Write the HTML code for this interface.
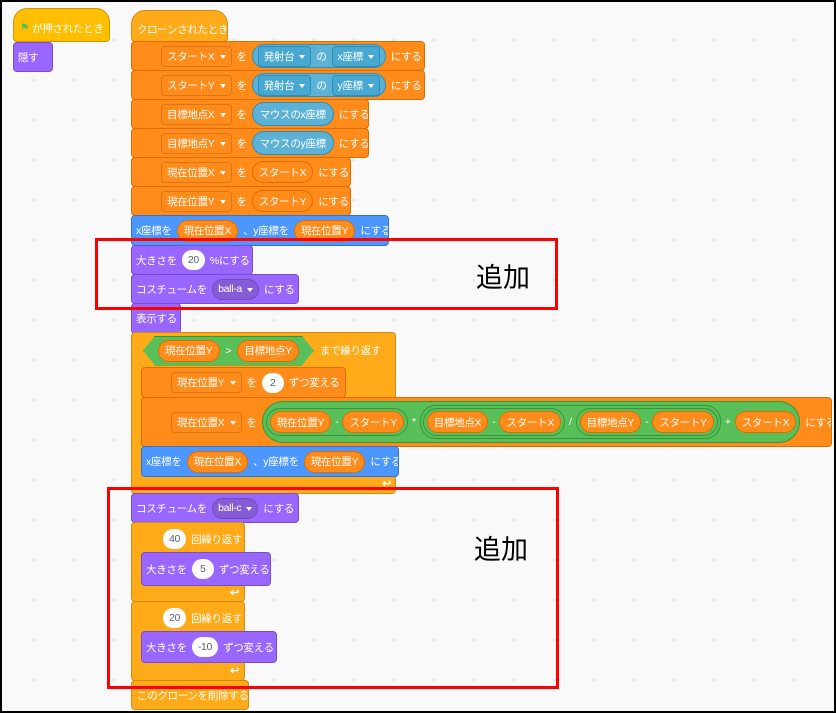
<!DOCTYPE html>
<html><head><meta charset="utf-8"><style>
*{box-sizing:border-box;margin:0;padding:0}
body{width:836px;height:713px;overflow:hidden;background:#000;font-family:"Liberation Sans","Noto Sans CJK JP",sans-serif}
#c{position:absolute;left:2px;top:2px;width:832px;height:709px;background-color:#f9f9f9;background-image:radial-gradient(circle,#ddd 1px,transparent 1.2px);background-size:40px 40px;background-position:12px 18px;overflow:hidden}
.b{position:absolute;display:flex;align-items:center;gap:5px;color:#fff;font-size:10.5px;letter-spacing:-0.3px;white-space:nowrap;border-radius:4px;padding-left:6px;overflow:hidden}
.var{background:#ff8c1a;border:1px solid #db6e00;padding-left:29px}
.mot{background:#4c97ff;border:1px solid #3373cc;padding-left:4px}
.look{background:#9966ff;border:1px solid #774dcb;padding-left:4px}
.ctl{background:#ffab19;border:1px solid #cf8b17}
.hat{border-radius:14px 14px 4px 4px}
.dd{border:1px solid rgba(0,0,0,.15);border-radius:4px;padding:2px 5px;height:21px;display:flex;align-items:center}
.dd:after{content:"";border:3.5px solid transparent;border-top:4px solid #fff;margin:4px 0 0 5px}
.rp{background:#ff8c1a;border:1px solid #db6e00;border-radius:12px;height:22px;padding:0 6px;display:flex;align-items:center}
.se{background:#5cb1d6;border:1px solid #2e8eb8;border-radius:12px;height:24px;padding:0 5px;display:flex;align-items:center;gap:5px}
.se .dd{background:#47a8d1;border-color:#2e8eb8}
.num{background:#fff;color:#575e75;border-radius:11px;height:20px;min-width:22px;padding:0 6px;display:flex;align-items:center;justify-content:center}
.gr{background:#59c059;border:1px solid #389438;border-radius:16px;display:flex;align-items:center;gap:4px;padding:3px 3px}
.red{position:absolute;border:3px solid #f00}
.add{position:absolute;font-size:27px;color:#000;font-family:"Noto Sans CJK JP",sans-serif}
.arr{position:absolute;color:#fff;font-size:11px;font-weight:bold}
</style></head><body><div id="c">
<div class="b hat" style="left:11px;top:6px;width:97px;height:34px;background:#ffbf00;border:1px solid #cc9900;padding-top:6px;gap:3px"><span style="color:#4cbf56">⚑</span>が押されたとき</div>
<div class="b look" style="left:11px;top:40px;width:40px;height:30px">隠す</div>

<div class="b hat ctl" style="left:129px;top:8px;width:97px;height:32px;padding-top:6px;padding-left:5px">クローンされたとき</div>
<div class="b var" style="left:129px;top:39px;width:294px;height:30px"><span class="dd">スタートX</span>を<span class="se"><span class="dd">発射台</span>の<span class="dd">x座標</span></span>にする</div>
<div class="b var" style="left:129px;top:68px;width:294px;height:30px"><span class="dd">スタートY</span>を<span class="se"><span class="dd">発射台</span>の<span class="dd">y座標</span></span>にする</div>
<div class="b var" style="left:129px;top:97px;width:238px;height:30px"><span class="dd">目標地点X</span>を<span class="se" style="padding:0 7px">マウスのx座標</span>にする</div>
<div class="b var" style="left:129px;top:126px;width:238px;height:30px"><span class="dd">目標地点Y</span>を<span class="se" style="padding:0 7px">マウスのy座標</span>にする</div>
<div class="b var" style="left:129px;top:155px;width:220px;height:30px"><span class="dd">現在位置X</span>を<span class="rp">スタートX</span>にする</div>
<div class="b var" style="left:129px;top:184px;width:220px;height:30px"><span class="dd">現在位置Y</span>を<span class="rp">スタートY</span>にする</div>
<div class="b mot" style="left:129px;top:213px;width:258px;height:31px">x座標を<span class="rp">現在位置X</span>、y座標を<span class="rp">現在位置Y</span>にする</div>
<div class="b look" style="left:129px;top:243px;width:122px;height:30px">大きさを<span class="num">20</span>%にする</div>
<div class="b look" style="left:129px;top:272px;width:168px;height:30px">コスチュームを<span class="dd" style="background:#855cd6;border-radius:11px">ball-a</span>にする</div>
<div class="b look" style="left:129px;top:301px;width:50px;height:31px">表示する</div>

<div class="ctl" style="position:absolute;left:129px;top:330px;width:265px;height:162px;border-radius:4px"></div>
<div class="b" style="left:129px;top:331px;height:35px;padding-left:12px;gap:6px"><span class="gr" style="clip-path:polygon(0 50%,12px 0,calc(100% - 12px) 0,100% 50%,calc(100% - 12px) 100%,12px 100%);padding:3px 14px;border-radius:0;gap:6px"><span class="rp">現在位置Y</span>&gt;<span class="rp">目標地点Y</span></span>まで繰り返す</div>
<div class="b var" style="left:139px;top:365px;width:205px;height:31px"><span class="dd">現在位置Y</span>を<span class="num">2</span>ずつ変える</div>
<div class="b var" style="left:139px;top:395px;width:691px;height:50px"><span class="dd">現在位置X</span>を<span class="gr" style="border-radius:22px;padding:3px"><span class="gr" style="padding:2px 3px"><span class="rp">現在位置Y</span>-<span class="rp">スタートY</span></span>*<span class="gr" style="padding:2px 2px"><span class="gr" style="padding:2px 3px"><span class="rp">目標地点X</span>-<span class="rp">スタートX</span></span>/<span class="gr" style="padding:2px 3px"><span class="rp">目標地点Y</span>-<span class="rp">スタートY</span></span></span>+<span class="rp">スタートX</span></span>にする</div>
<div class="b mot" style="left:139px;top:444px;width:258px;height:31px">x座標を<span class="rp">現在位置X</span>、y座標を<span class="rp">現在位置Y</span>にする</div>
<div class="arr" style="left:380px;top:475px">↩</div>

<div class="b look" style="left:129px;top:491px;width:168px;height:30px">コスチュームを<span class="dd" style="background:#855cd6;border-radius:11px">ball-c</span>にする</div>
<div class="ctl" style="position:absolute;left:129px;top:520px;width:114px;height:80px;border-radius:4px"></div>
<div class="b" style="left:155px;top:522px;height:30px"><span class="num">40</span>回繰り返す</div>
<div class="b look" style="left:139px;top:550px;width:130px;height:34px">大きさを<span class="num">5</span>ずつ変える</div>
<div class="arr" style="left:228px;top:584px">↩</div>
<div class="ctl" style="position:absolute;left:129px;top:599px;width:114px;height:80px;border-radius:4px"></div>
<div class="b" style="left:155px;top:601px;height:30px"><span class="num">20</span>回繰り返す</div>
<div class="b look" style="left:139px;top:629px;width:136px;height:32px">大きさを<span class="num">-10</span>ずつ変える</div>
<div class="arr" style="left:228px;top:662px">↩</div>
<div class="b ctl" style="left:129px;top:678px;width:118px;height:30px;padding-left:5px">このクローンを削除する</div>

<div class="red" style="left:93px;top:236px;width:463px;height:72px"></div>
<div class="red" style="left:105px;top:485px;width:452px;height:202px"></div>
<div class="add" style="left:474px;top:254px">追加</div>
<div class="add" style="left:472px;top:526px">追加</div>
</div></body></html>
